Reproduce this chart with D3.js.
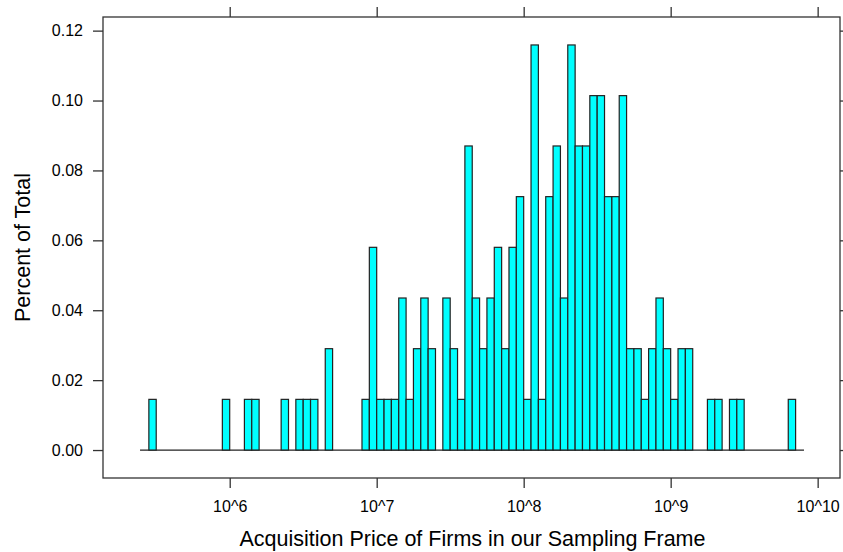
<!DOCTYPE html>
<html>
<head>
<meta charset="utf-8">
<script src="https://cdn.jsdelivr.net/npm/d3@7"></script>
<style>
  body { margin: 0; background: #fff; }
  svg { display: block; }
  text { font-family: "Liberation Sans", Arial, sans-serif; fill: #000; }
</style>
</head>
<body>
<svg id="chart"></svg>
<script>
// bins are 0.05 wide on the log10 scale; binLeft = lower edge (log10 of price)
const binWidth = 0.05;
const binLeft = [5.45, 5.95, 6.10, 6.15, 6.35, 6.45, 6.50, 6.55, 6.65,
  6.90, 6.95, 7.00, 7.05, 7.10, 7.15, 7.20, 7.25, 7.30, 7.35,
  7.45, 7.50, 7.55, 7.60, 7.65, 7.70, 7.75, 7.80, 7.85, 7.90, 7.95,
  8.00, 8.05, 8.10, 8.15, 8.20, 8.25, 8.30, 8.35, 8.40, 8.45, 8.50, 8.55, 8.60, 8.65,
  8.70, 8.75, 8.80, 8.85, 8.90, 8.95, 9.00, 9.05, 9.10,
  9.25, 9.30, 9.40, 9.45, 9.80];
const pct = [0.0145, 0.0145, 0.0145, 0.0145, 0.0145, 0.0145, 0.0145, 0.0145, 0.0290,
  0.0145, 0.0580, 0.0145, 0.0145, 0.0145, 0.0435, 0.0145, 0.0290, 0.0435, 0.0290,
  0.0435, 0.0290, 0.0145, 0.0870, 0.0435, 0.0290, 0.0435, 0.0580, 0.0290, 0.0580, 0.0725,
  0.0145, 0.1159, 0.0145, 0.0725, 0.0870, 0.0435, 0.1159, 0.0870, 0.0870, 0.1014, 0.1014, 0.0725, 0.0725, 0.1014,
  0.0290, 0.0290, 0.0145, 0.0290, 0.0435, 0.0290, 0.0145, 0.0290, 0.0290,
  0.0145, 0.0145, 0.0145, 0.0145, 0.0145];
const baseRange = [5.39, 9.907];
const xTicks = [6, 7, 8, 9, 10];
const yTicks = [0, 0.02, 0.04, 0.06, 0.08, 0.10, 0.12];

const width = 843, height = 552;
const box = {left: 103, right: 840, top: 17, bottom: 478};

const svg = d3.select("#chart").attr("width", width).attr("height", height);

const x = d3.scaleLinear().domain([5.138, 10.152]).range([box.left, box.right]);
const y = d3.scaleLinear().domain([-0.0080, 0.1239]).range([box.bottom, box.top]);

const bars = binLeft.map((b, i) => ({x0: b, x1: b + binWidth, v: pct[i]}));

// zero line across the full break range
svg.append("line")
  .attr("x1", x(baseRange[0])).attr("x2", x(baseRange[1]))
  .attr("y1", y(0)).attr("y2", y(0))
  .attr("stroke", "#222").attr("stroke-width", 1.2);

svg.append("g").selectAll("rect")
  .data(bars)
  .join("rect")
  .attr("x", d => x(d.x0))
  .attr("width", d => x(d.x1) - x(d.x0))
  .attr("y", d => y(d.v))
  .attr("height", d => y(0) - y(d.v))
  .attr("fill", "#00ffff")
  .attr("stroke", "#222")
  .attr("stroke-width", 1.2);

// panel box
svg.append("rect")
  .attr("x", box.left).attr("y", box.top)
  .attr("width", box.right - box.left).attr("height", box.bottom - box.top)
  .attr("fill", "none").attr("stroke", "#333").attr("stroke-width", 1.3);

const fmtX = d => "10^" + d;
const axStyle = g => {
  g.select(".domain").remove();
  g.selectAll(".tick line").attr("stroke", "#333").attr("stroke-width", 1.3);
  g.selectAll(".tick text").style("font-size", "16px");
};

svg.append("g").attr("transform", `translate(0,${box.bottom})`)
  .call(d3.axisBottom(x).tickValues(xTicks).tickFormat(fmtX).tickSize(10).tickPadding(13))
  .call(axStyle);
svg.append("g").attr("transform", `translate(0,${box.top})`)
  .call(d3.axisTop(x).tickValues(xTicks).tickFormat("").tickSize(10))
  .call(axStyle);
svg.append("g").attr("transform", `translate(${box.left},0)`)
  .call(d3.axisLeft(y).tickValues(yTicks).tickFormat(d3.format(".2f")).tickSize(10).tickPadding(10))
  .call(axStyle);
svg.append("g").attr("transform", `translate(${box.right},0)`)
  .call(d3.axisRight(y).tickValues(yTicks).tickFormat("").tickSize(10))
  .call(axStyle);

svg.append("text")
  .attr("x", (box.left + box.right) / 2 + 1).attr("y", 546)
  .attr("text-anchor", "middle")
  .style("font-size", "21.5px")
  .text("Acquisition Price of Firms in our Sampling Frame");

svg.append("text")
  .attr("transform", `translate(30,${(box.top + box.bottom) / 2}) rotate(-90)`)
  .attr("text-anchor", "middle")
  .style("font-size", "21.5px")
  .text("Percent of Total");
</script>
</body>
</html>
